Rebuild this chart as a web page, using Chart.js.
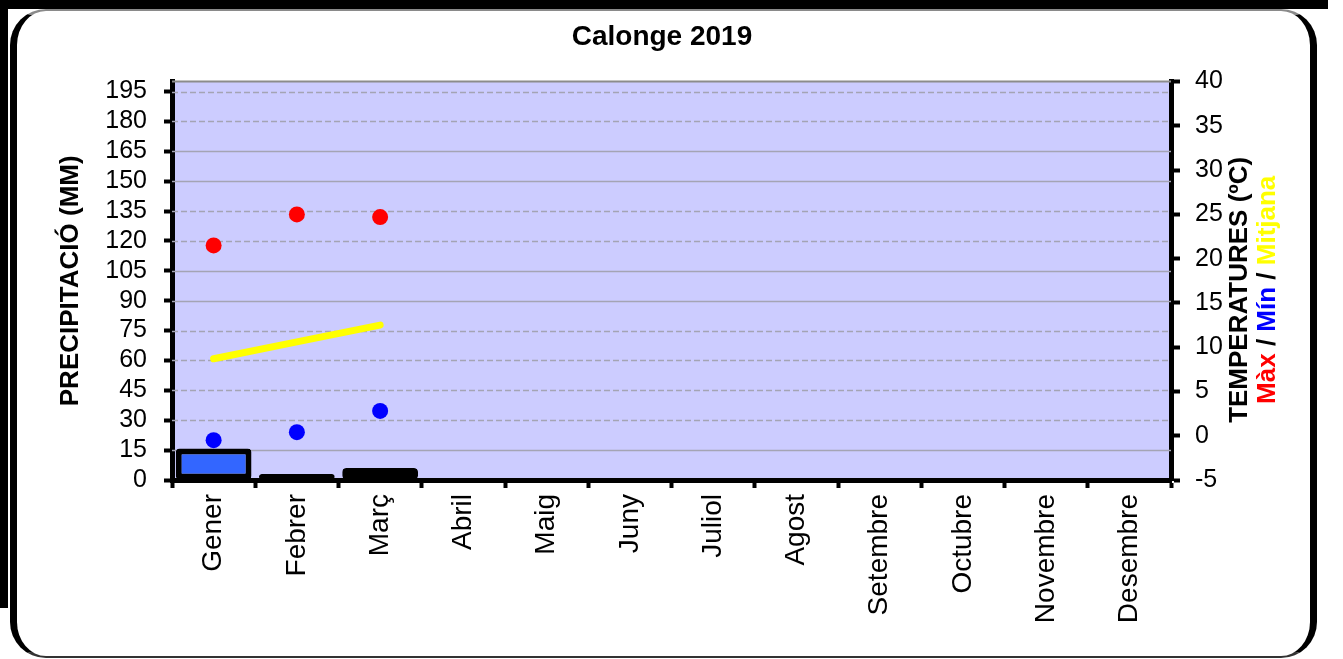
<html lang="ca">
<head>
<meta charset="UTF-8">
<title>Calonge 2019</title>
<script src="https://cdn.jsdelivr.net/npm/chart.js"></script>
<style>
    body {
        margin: 0;
        background: #ffffff;
        overflow: hidden;
        width: 1343px;
        height: 659px;
        position: relative;
    }
    .band-top {
        position: absolute;
        left: 0; top: 0;
        width: 1328px; height: 9px;
        background: #000;
    }
    .band-left {
        position: absolute;
        left: 0; top: 0;
        width: 8px; height: 608px;
        background: #000;
    }
    .frame {
        position: absolute;
        left: 10px; top: 9px;
        width: 1293px; height: 645px;
        border-left: 7px solid #000;
        border-right: 7px solid #000;
        border-top: 2px solid #8a8a8a;
        border-bottom: 2px solid #333;
        border-radius: 36px;
        background: #fff;
    }
    .chartbox {
        position: absolute;
        left: -19px; top: 0;
        width: 1362px; height: 659px;
    }
</style>
</head>
<body>
<div class="band-top"></div>
<div class="band-left"></div>
<div class="frame"></div>
<div class="chartbox"><canvas id="climaChart"></canvas></div>

<script>
const months = ['Gener', 'Febrer', 'Març', 'Abril', 'Maig', 'Juny', 'Juliol', 'Agost', 'Setembre', 'Octubre', 'Novembre', 'Desembre'];
const precipitacio = [15.8, 3, 6, null, null, null, null, null, null, null, null, null];
const tempMax = [21.5, 25.0, 24.7, null, null, null, null, null, null, null, null, null];
const tempMin = [-0.5, 0.4, 2.8, null, null, null, null, null, null, null, null, null];
const tempMitjana = [8.7, 10.6, 12.5, null, null, null, null, null, null, null, null, null];

// left axis runs to 200 but the last labelled tick is 195
const precipMax = 200;
// gridlines that the original draws solid (the rest are dashed)
const solidGrid = [15, 90, 105, 150, 165];

const FONT = '"Liberation Sans", Arial, sans-serif';
Chart.defaults.font.family = FONT;
Chart.defaults.color = '#000';

const plotBack = {
    id: 'plotBack',
    beforeDraw(chart) {
        const {ctx, chartArea: a} = chart;
        ctx.save();
        ctx.fillStyle = '#ccccff';
        ctx.fillRect(a.left, a.top, a.right - a.left, a.bottom - a.top);
        ctx.restore();
    },
    beforeDatasetsDraw(chart) {
        const {ctx, chartArea: a} = chart;
        const y = chart.scales.y;
        ctx.save();
        ctx.lineWidth = 1.5;
        ctx.strokeStyle = '#a4a4b4';
        y.ticks.forEach(t => {
            if (t.value <= 0 || t.value >= precipMax) return;
            const py = Math.round(y.getPixelForValue(t.value)) + 0.5;
            ctx.setLineDash(solidGrid.includes(t.value) ? [] : [6, 3]);
            ctx.beginPath();
            ctx.moveTo(a.left, py);
            ctx.lineTo(a.right, py);
            ctx.stroke();
        });
        ctx.setLineDash([]);
        ctx.strokeStyle = '#8c8c8c';
        ctx.lineWidth = 2;
        ctx.beginPath();
        ctx.moveTo(a.left, a.top);
        ctx.lineTo(a.right, a.top);
        ctx.stroke();
        ctx.restore();
    }
};

// right axis title: two lines, the second one in three colours
const rightTitle = {
    id: 'rightTitle',
    afterDraw(chart) {
        const {ctx, chartArea: a} = chart;
        const cy = (a.top + a.bottom) / 2 + 9;
        ctx.save();
        ctx.font = 'bold 26px ' + FONT;
        ctx.textBaseline = 'middle';

        ctx.save();
        ctx.translate(a.right + 69, cy);
        ctx.rotate(-Math.PI / 2);
        ctx.textAlign = 'center';
        ctx.fillStyle = '#000';
        ctx.fillText('TEMPERATURES (ºC)', 0, 0);
        ctx.restore();

        const parts = [['Màx', '#ff0000'], [' / ', '#000'], ['Mín', '#0000ff'], [' / ', '#000'], ['Mitjana', '#ffff00']];
        const total = parts.reduce((s, p) => s + ctx.measureText(p[0]).width, 0);
        ctx.translate(a.right + 97, cy);
        ctx.rotate(-Math.PI / 2);
        ctx.textAlign = 'left';
        let x = -total / 2;
        parts.forEach(p => {
            ctx.fillStyle = p[1];
            ctx.fillText(p[0], x, 0);
            x += ctx.measureText(p[0]).width;
        });
        ctx.restore();
    }
};

new Chart(document.getElementById('climaChart'), {
    type: 'bar',
    data: {
        labels: months,
        datasets: [{
            type: 'line',
            label: 'Màx',
            data: tempMax,
            yAxisID: 'y2',
            showLine: false,
            pointRadius: 8,
            pointBackgroundColor: '#ff0000',
            pointBorderWidth: 0,
            order: 0
        }, {
            type: 'line',
            label: 'Mín',
            data: tempMin,
            yAxisID: 'y2',
            showLine: false,
            pointRadius: 8,
            pointBackgroundColor: '#0000ff',
            pointBorderWidth: 0,
            order: 0
        }, {
            type: 'line',
            label: 'Mitjana',
            data: tempMitjana,
            yAxisID: 'y2',
            borderColor: '#ffff00',
            borderWidth: 7,
            borderCapStyle: 'round',
            pointRadius: 0,
            order: 1
        }, {
            label: 'Precipitació',
            data: precipitacio,
            yAxisID: 'y',
            backgroundColor: '#3366ff',
            borderColor: '#000',
            borderWidth: 6,
            borderRadius: 4,
            borderSkipped: false,
            barPercentage: 0.91,
            categoryPercentage: 1,
            order: 3
        }]
    },
    options: {
        responsive: true,
        maintainAspectRatio: false,
        animation: false,
        layout: { padding: 0 },
        plugins: {
            legend: { display: false },
            tooltip: { enabled: false },
            title: {
                display: true,
                text: 'Calonge 2019',
                color: '#000',
                font: { size: 28, weight: 'bold' },
                padding: { top: 20, bottom: 28 }
            }
        },
        scales: {
            x: {
                grid: { offset: true, drawOnChartArea: false, tickLength: 8, tickWidth: 4, tickColor: '#000' },
                border: { color: '#000', width: 5 },
                ticks: { minRotation: 90, maxRotation: 90, autoSkip: false, padding: 6, font: { size: 28 } },
                afterFit(s) { s.height = 179; }
            },
            y: {
                position: 'left',
                min: 0,
                max: precipMax,
                bounds: 'data',
                grid: {
                    drawOnChartArea: false, tickLength: 8, tickWidth: 4,
                    tickColor: c => (c.tick && c.tick.value >= precipMax) ? 'rgba(0,0,0,0)' : '#000'
                },
                border: { color: '#000', width: 5 },
                ticks: {
                    stepSize: 15, includeBounds: false, maxTicksLimit: 20, autoSkip: false, padding: 17,
                    font: { size: 25 },
                    callback: v => v >= precipMax ? '' : v
                },
                title: {
                    display: true,
                    text: 'PRECIPITACIÓ (MM)',
                    color: '#000',
                    font: { size: 26, weight: 'bold' },
                    padding: { top: 74, bottom: 0 }
                },
                afterFit(s) { s.width = 191; }
            },
            y2: {
                position: 'right',
                min: -5,
                max: 40,
                grid: { drawOnChartArea: false, tickLength: 9, tickWidth: 4, tickColor: '#000' },
                border: { color: '#000', width: 5 },
                ticks: { stepSize: 5, maxTicksLimit: 20, autoSkip: false, padding: 15, font: { size: 25 } },
                afterFit(s) { s.width = 172; }
            }
        }
    },
    plugins: [plotBack, rightTitle]
});
</script>
</body>
</html>
